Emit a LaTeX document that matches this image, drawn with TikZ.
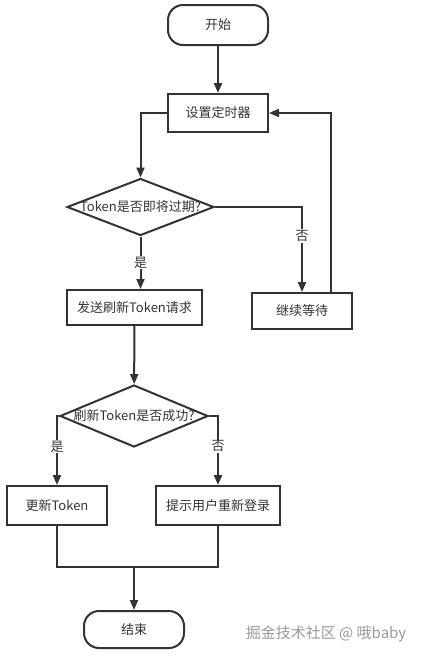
\documentclass[tikz,border=0pt]{standalone}
\usepackage{fontspec}
\setmainfont{Noto Sans CJK SC}
\usepackage{tikz}
\usetikzlibrary{arrows.meta,shapes.geometric}
\definecolor{ink}{HTML}{333333}
\newcommand{\nowide}[1]{\makebox[0pt]{#1}}

\begin{document}
\begin{tikzpicture}[
    x=1pt, y=-1pt,
    font=\fontsize{13}{15}\selectfont, text=ink,
    box/.style={draw=ink, line width=2pt, align=center, inner sep=2pt,
                minimum width=100pt, minimum height=38pt},
    term/.style={box, rounded corners=15pt},
    decision/.style={diamond, draw=ink, line width=2pt, inner sep=0pt,
                minimum width=147pt, minimum height=57pt},
    flow/.style={-{Triangle[length=10pt, width=8pt]}, draw=ink, line width=2pt},
    wire/.style={draw=ink, line width=2pt},
    lbl/.style={fill=white, inner sep=1pt},
  ]
  \useasboundingbox (0,0) rectangle (422,657);
  \node[term, minimum height=40pt] (start) at (218,25) {开始};
  \node[box] (timer) at (218,113) {设置定时器};
  \node[decision] (expire) at (140.5,207) {\nowide{Token是否即将过期?}};
  \node[box, minimum height=36pt] (wait) at (302,311) {继续等待};
  \node[box, minimum width=135pt, minimum height=35pt] (send) at (134.5,307.5) {发送刷新Token请求};
  \node[decision, minimum width=148pt, minimum height=62pt] (ok) at (134,416) {\nowide{刷新Token是否成功?}};
  \node[box, minimum height=39pt] (update) at (57,505.5) {更新Token};
  \node[box, minimum width=124pt, minimum height=39pt] (relogin) at (218,505.5) {提示用户重新登录};
  \node[term, minimum height=37pt] (end) at (134,629.5) {结束};
  \node[text=black!40, font=\fontsize{15}{17}\selectfont] (credit) at (326,634) {掘金技术社区 @ 哦baby};
  \coordinate (merge) at (134,567);

  % main flow
  \draw[flow] (start) -- (timer);
  \draw[flow] (timer.west) -| (expire.north);
  \draw[flow] (expire.south) -- node[lbl] {是} (expire.south |- send.north);
  \draw[flow] (send) -- (ok);
  \draw[flow] (ok.west) -| node[lbl, pos=0.72] {是} (update.north);
  \draw[flow] (ok.east) -| node[lbl, pos=0.72] {否} (relogin.north);
  % waiting loop
  \draw[flow] (expire.east) -| node[lbl, pos=0.67] {否} (wait.north);
  \draw[flow] ([xshift=29pt]wait.north) |- (timer.east);
  % both branches end
  \draw[wire] (update.south) |- (merge) -| (relogin.south);
  \draw[flow] (merge) -- (end);
\end{tikzpicture}
\end{document}
